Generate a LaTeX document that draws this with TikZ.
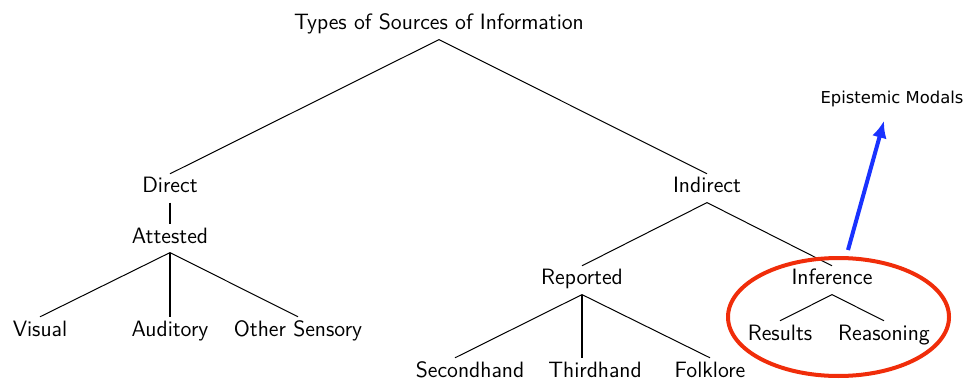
\documentclass[tikz,border=0pt]{standalone}
\usepackage{fontspec}
\newfontfamily\epfont{DejaVu Sans}
\usetikzlibrary{arrows.meta,shapes.geometric}
\definecolor{ringred}{RGB}{240,45,10}
\definecolor{arrowblue}{RGB}{25,50,255}
\begin{document}
\begin{tikzpicture}[x=0.5pt,y=-0.5pt,
  lbl/.style={anchor=base, font=\sffamily\fontsize{11.1}{13}\selectfont,
              text height=7.4pt, text depth=2.6pt, inner sep=2pt},
  branch/.style={line width=0.5pt, black},
  vbranch/.style={line width=1pt, black},
  ringstyle/.style={draw=ringred, line width=2pt, ellipse, inner sep=0pt,
              minimum width=110.5pt, minimum height=59pt},
  pointer/.style={draw=arrowblue, line width=2pt,
              -{Latex[length=8.5pt,width=7.5pt]}}]
\useasboundingbox (0,0) rectangle (968,379);

\node[lbl] (root) at (439,30) {Types of Sources of Information};
\node[lbl] (direct) at (170,193) {Direct};
\node[lbl] (indirect) at (707,193) {Indirect};
\node[lbl] (attested) at (170,243) {Attested};
\node[lbl] (visual) at (40,336) {Visual};
\node[lbl] (auditory) at (170,336) {Auditory};
\node[lbl] (other) at (298,336) {Other Sensory};
\node[lbl] (reported) at (582,285) {Reported};
\node[lbl] (inference) at (832,285) {Inference};
\node[lbl] (second) at (470,377) {Secondhand};
\node[lbl] (third) at (595,377) {Thirdhand};
\node[lbl] (folk) at (710,377) {Folklore};
\node[lbl] (results) at (780,340) {Results};
\node[lbl] (reasoning) at (884,340) {Reasoning};
\node[anchor=base, font=\epfont\fontsize{8.2}{10}\selectfont, inner sep=0pt]
  (epi) at (892,104) {Epistemic Modals};

\draw[branch] (root.south) -- (direct.north);
\draw[branch] (root.south) -- (indirect.north);
\draw[vbranch] (direct.south) -- (attested.north);
\draw[branch] (attested.south) -- (visual.north);
\draw[vbranch] (attested.south) -- (auditory.north);
\draw[branch] (attested.south) -- (other.north);
\draw[branch] (indirect.south) -- (reported.north);
\draw[branch] (indirect.south) -- (inference.north);
\draw[branch] (reported.south) -- ([xshift=-7.5pt]second.north);
\draw[vbranch] (reported.south) -- ([xshift=-6.5pt]third.north);
\draw[branch] (reported.south) -- (folk.north);
\draw[branch] (inference.south) -- (results.north);
\draw[branch] (inference.south) -- (reasoning.north);

\node[ringstyle] (ring) at (838.5,317) {};
\draw[pointer] ([shift={(4.75pt,3pt)}]ring.north) -- ([shift={(-4pt,-6.5pt)}]epi.south);
\end{tikzpicture}
\end{document}
